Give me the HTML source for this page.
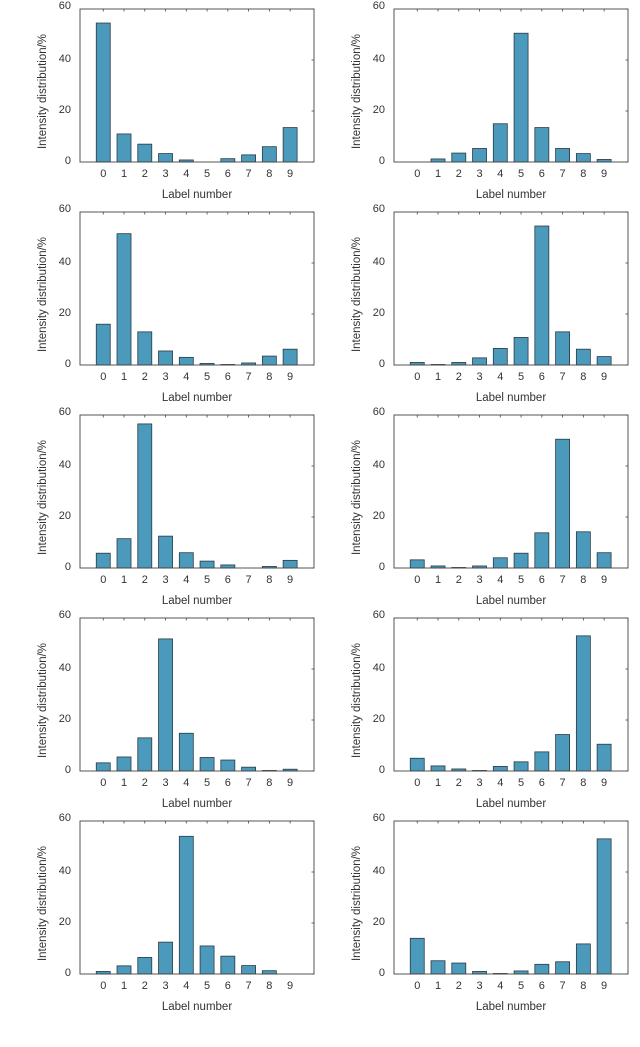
<!DOCTYPE html>
<html><head><meta charset="utf-8"><style>
html,body{margin:0;padding:0;background:#fff;width:640px;height:1047px;overflow:hidden}
text{font-family:"Liberation Sans",Arial,sans-serif;fill:#333}
</style></head><body>
<svg id="fig" width="640" height="1047" viewBox="0 0 640 1047" xmlns="http://www.w3.org/2000/svg"></svg>
<script>
const categories = ["0","1","2","3","4","5","6","7","8","9"];
const yTicks = [0,20,40,60];
const s1 = [54.5,11,7,3.3,0.8,0,1.3,2.8,6,13.5];
const s2 = [0,1.2,3.5,5.3,15,50.5,13.5,5.3,3.3,1];
const s3 = [16,51.5,13,5.5,3,0.6,0.2,0.8,3.5,6.2];
const s4 = [1,0.2,1,2.8,6.5,10.8,54.5,13,6.2,3.3];
const s5 = [5.8,11.5,56.5,12.5,6,2.7,1.2,0,0.6,3];
const s6 = [3.2,0.8,0.2,0.8,4,5.8,13.8,50.5,14.2,6];
const s7 = [3.2,5.5,13,51.8,14.8,5.3,4.3,1.5,0.2,0.7];
const s8 = [5,2,0.8,0.2,1.8,3.6,7.5,14.3,53,10.5];
const s9 = [1,3.2,6.5,12.5,54,11,7,3.3,1.3,0];
const s10 = [14,5.2,4.3,1,0.2,1.2,3.8,4.8,11.8,53];
const series = [s1,s2,s3,s4,s5,s6,s7,s8,s9,s10];

const NS="http://www.w3.org/2000/svg";
const svg=document.getElementById('fig');
function mk(tag,attrs,parent){const e=document.createElementNS(NS,tag);for(const k in attrs)e.setAttribute(k,attrs[k]);parent.appendChild(e);return e;}
const W=234,H=153;
series.forEach((data,idx)=>{
  const col=idx%2,row=Math.floor(idx/2);
  const x0=col?394:80, y0=9+row*203;
  const g=mk('g',{},svg);
  
  
  const xs=i=>x0+W*(i+1.12)/11.27;
  const ys=v=>y0+H-H*v/60;
  const bw=14;
  data.forEach((v,i)=>{
    const r=mk('rect',{x:xs(i)-bw/2,y:ys(v),width:bw,height:Math.max(0,ys(0)-ys(v)),fill:'#4b9abb',stroke:'#2a3a44','stroke-width':0.8},g);
    
    
  });
  const box=mk('rect',{x:x0,y:y0,width:W,height:H,fill:'none',stroke:'#444','stroke-width':0.9},g);
  
  
  categories.forEach((c,i)=>{
    mk('line',{x1:xs(i),x2:xs(i),y1:y0,y2:y0+2.5,stroke:'#444','stroke-width':0.8},g);
    const t=mk('text',{x:xs(i),y:y0+H+15,'font-size':11,'text-anchor':'middle'},g);
    t.textContent=c;
    
    
  });
  yTicks.forEach(v=>{
    mk('line',{x1:x0+W-2.5,x2:x0+W,y1:ys(v),y2:ys(v),stroke:'#444','stroke-width':0.8},g);
    const t=mk('text',{x:x0-9,y:ys(v)+(v==60?0:2),'font-size':11,'text-anchor':'end'},g);
    t.textContent=v;
    
    
  });
  const xl=mk('text',{x:x0+W*0.5,y:y0+H+36,'font-size':11.5,'text-anchor':'middle'},g);
  xl.textContent='Label number';
  
  
  const yx=x0-34, yy=y0+H/2+6;
  const yl=mk('text',{x:yx,y:yy,'font-size':11.5,'text-anchor':'middle',transform:`rotate(-90 ${yx} ${yy})`},g);
  yl.textContent='Intensity distribution/%';
  
  
});
</script>
</body></html>
